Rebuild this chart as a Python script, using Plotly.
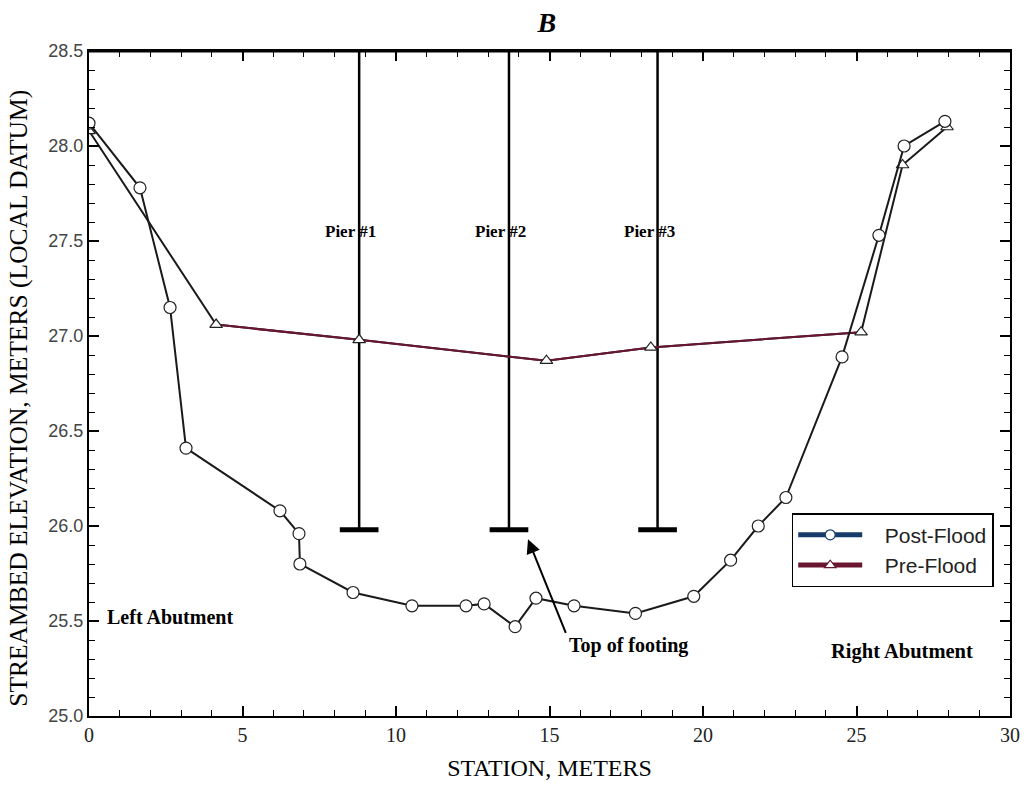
import plotly.graph_objects as go

# Post-flood streambed survey (station, elevation)
post_station = [0.0, 1.66, 2.64, 3.16, 6.22, 6.84, 6.87, 8.6, 10.52, 12.28, 12.87,
                13.88, 14.56, 15.8, 17.8, 19.7, 20.9, 21.8, 22.7, 24.53, 25.73,
                26.55, 27.88]
post_elev = [28.12, 27.78, 27.15, 26.41, 26.08, 25.96, 25.80, 25.65, 25.58, 25.58,
             25.59, 25.47, 25.62, 25.58, 25.54, 25.63, 25.82, 26.00, 26.15, 26.89,
             27.53, 28.00, 28.13]

# Pre-flood streambed survey
pre_station = [0.0, 4.14, 8.8, 14.9, 18.3, 25.15, 26.5, 27.95]
pre_elev = [28.08, 27.06, 26.98, 26.87, 26.94, 27.02, 27.90, 28.10]

# Piers: station of each stem, footing top elevation and footing half-width
pier_names = ["Pier #1", "Pier #2", "Pier #3"]
pier_station = [8.8, 13.68, 18.52]
pier_label_station = [8.53, 13.42, 18.27]
footing_top = 25.98
footing_half = 0.63
deck_elev = 28.5
pier_label_elev = 27.55

x_range = [0, 30]
y_range = [25.0, 28.5]

fig = go.Figure()

# Pier stems and footings
for s in pier_station:
    fig.add_trace(go.Scatter(x=[s, s], y=[deck_elev, footing_top], mode="lines",
                             line=dict(color="black", width=2.5),
                             showlegend=False, hoverinfo="skip"))
    fig.add_trace(go.Scatter(x=[s - footing_half, s + footing_half],
                             y=[footing_top, footing_top], mode="lines",
                             line=dict(color="black", width=5),
                             showlegend=False, hoverinfo="skip"))

# Pre-flood profile (dark line, maroon across the channel)
fig.add_trace(go.Scatter(x=pre_station, y=pre_elev, mode="lines",
                         line=dict(color="#1a1a1a", width=2),
                         showlegend=False, hoverinfo="skip"))
fig.add_trace(go.Scatter(x=pre_station[1:6], y=pre_elev[1:6], mode="lines",
                         line=dict(color="#6a1631", width=2),
                         showlegend=False, hoverinfo="skip"))
fig.add_trace(go.Scatter(x=pre_station, y=pre_elev, mode="markers",
                         marker=dict(symbol="triangle-up", size=11, color="white",
                                     line=dict(color="#222", width=1.2)),
                         showlegend=False))

# Post-flood profile
fig.add_trace(go.Scatter(x=post_station, y=post_elev, mode="lines+markers",
                         line=dict(color="#1a1a1a", width=2),
                         marker=dict(symbol="circle", size=12, color="white",
                                     line=dict(color="#222", width=1.2)),
                         showlegend=False))

# Legend entries
nb = "\u00a0\u00a0\u00a0"
fig.add_trace(go.Scatter(x=[None], y=[None], mode="lines+markers", name=nb + "Post-Flood",
                         line=dict(color="#163c6c", width=5),
                         marker=dict(symbol="circle", size=10, color="white",
                                     line=dict(color="#163c6c", width=1.2))))
fig.add_trace(go.Scatter(x=[None], y=[None], mode="lines+markers", name=nb + "Pre-Flood",
                         line=dict(color="#6a1631", width=5),
                         marker=dict(symbol="triangle-up", size=10, color="white",
                                     line=dict(color="#6a1631", width=1.2))))

serif = "Liberation Serif, Times New Roman, serif"
sans = "Liberation Sans, Arial, sans-serif"

annotations = []
for name, s in zip(pier_names, pier_label_station):
    annotations.append(dict(x=s, y=pier_label_elev, text="<b>" + name + "</b>",
                            showarrow=False,
                            font=dict(family=serif, size=17, color="black"),
                            xanchor="center", yanchor="middle"))
annotations.append(dict(x=0.52, y=25.52, text="<b>Left Abutment</b>", showarrow=False,
                        font=dict(family=serif, size=20, color="black"),
                        xanchor="left", yanchor="middle"))
annotations.append(dict(x=24.12, y=25.34, text="<b>Right Abutment</b>", showarrow=False,
                        font=dict(family=serif, size=20.5, color="black"),
                        xanchor="left", yanchor="middle"))
annotations.append(dict(x=17.56, y=25.37, text="<b>Top of footing</b>", showarrow=False,
                        font=dict(family=serif, size=20, color="black"),
                        xanchor="center", yanchor="middle"))
annotations.append(dict(x=14.3, y=25.93, ax=15.55, ay=25.43, axref="x", ayref="y",
                        text="", showarrow=True, arrowhead=2, arrowsize=1.4,
                        arrowwidth=2, arrowcolor="black"))
# Vertical axis title
annotations.append(dict(xref="paper", yref="paper", x=-0.076, y=0.477,
                        text="STREAMBED ELEVATION, METERS (LOCAL DATUM)",
                        textangle=-90, showarrow=False, xanchor="center",
                        yanchor="middle",
                        font=dict(family=serif, size=25.5, color="black")))

fig.update_layout(
    width=1024, height=787,
    margin=dict(l=89, r=14, t=51, b=71),
    paper_bgcolor="white", plot_bgcolor="white",
    title=dict(text="<b><i>B</i></b>", x=0.534, xanchor="center", y=0.972,
               yanchor="middle", font=dict(family=serif, size=28, color="black")),
    annotations=annotations,
    legend=dict(x=0.763, y=0.305, xanchor="left", yanchor="top",
                bgcolor="white", bordercolor="black", borderwidth=1.5,
                font=dict(family=sans, size=21, color="#222"),
                itemwidth=64, tracegroupgap=0),
    shapes=[dict(type="line", xref="paper", yref="paper", x0=0, x1=1, y0=1, y1=1,
                 line=dict(color="black", width=3))],
)

fig.update_xaxes(
    range=x_range, dtick=5, tick0=0, showgrid=False, zeroline=False, automargin=False,
    showline=True, linecolor="black", linewidth=2, mirror="allticks",
    ticks="inside", ticklen=10, tickwidth=1.5, tickcolor="black",
    minor=dict(dtick=1, ticks="inside", ticklen=6, tickcolor="black", tickwidth=1.2),
    tickfont=dict(family=serif, size=20, color="#222"),
    title=dict(text="STATION, METERS", font=dict(family=serif, size=24, color="black"),
               standoff=14),
)
fig.update_yaxes(
    range=y_range, dtick=0.5, tick0=25, tickformat=".1f", showgrid=False,
    zeroline=False, automargin=False, showline=True, linecolor="black", linewidth=2,
    mirror="allticks",
    ticks="inside", ticklen=10, tickwidth=1.5, tickcolor="black",
    minor=dict(dtick=0.1, ticks="inside", ticklen=6, tickcolor="black", tickwidth=1.2),
    tickfont=dict(family=sans, size=18, color="#444"),
)

fig.write_html("out.html")
